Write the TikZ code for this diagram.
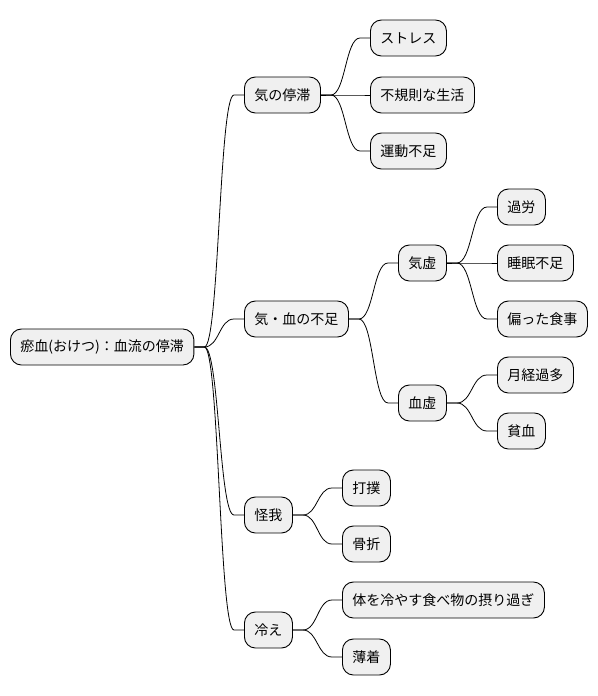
\documentclass[tikz,border=0pt]{standalone}
\usepackage{fontspec}
\setmainfont{Noto Sans CJK JP}
\usetikzlibrary{positioning,calc}

\tikzset{
  topic/.style={draw, fill=gray!12, rounded corners=11pt, line width=0.9pt,
    minimum height=36pt, inner xsep=10pt, inner ysep=0pt, anchor=west,
    font=\fontsize{14}{16}\selectfont},
  branch/.style={line width=0.8pt},
}

\begin{document}
\begin{tikzpicture}[x=1pt,y=-1pt]
\useasboundingbox (0,0) rectangle (597,696);
% root
\node[topic] (root) at (10,347) {瘀血(おけつ)：血流の停滞};
% first level
\node[topic] (qistag) at (244,95) {気の停滞};
\node[topic] (lack) at (244,319) {気・血の不足};
\node[topic] (injury) at (244,515) {怪我};
\node[topic] (cold) at (244,630) {冷え};
% qi stagnation
\node[topic] (stress) at (370,38) {ストレス};
\node[topic] (life) at (370,95) {不規則な生活};
\node[topic] (exercise) at (370,151) {運動不足};
% deficiency
\node[topic] (qixu) at (398,263) {気虚};
\node[topic] (xuexu) at (398,403) {血虚};
\node[topic] (fatigue) at (497,207) {過労};
\node[topic] (sleep) at (497,263) {睡眠不足};
\node[topic] (diet) at (497,319) {偏った食事};
\node[topic] (menses) at (497,375) {月経過多};
\node[topic] (anemia) at (497,431) {貧血};
% injury
\node[topic] (bruise) at (342,488) {打撲};
\node[topic] (fracture) at (342,544) {骨折};
% cold
\node[topic] (food) at (342,600) {体を冷やす食べ物の摂り過ぎ};
\node[topic] (clothes) at (342,657) {薄着};
% connectors
\foreach \a/\b in {root/qistag, root/lack, root/injury, root/cold,
    qistag/stress, qistag/life, qistag/exercise,
    lack/qixu, lack/xuexu,
    qixu/fatigue, qixu/sleep, qixu/diet,
    xuexu/menses, xuexu/anemia,
    injury/bruise, injury/fracture,
    cold/food, cold/clothes} {
  \draw[branch] let \p1=(\a.east), \p2=(\b.west) in
    (\p1) -- (\x1+10pt,\y1)
    .. controls (\x1/2+\x2/2,\y1) and (\x1/2+\x2/2,\y2) .. (\x2-10pt,\y2)
    -- (\p2);
}
\end{tikzpicture}
\end{document}
